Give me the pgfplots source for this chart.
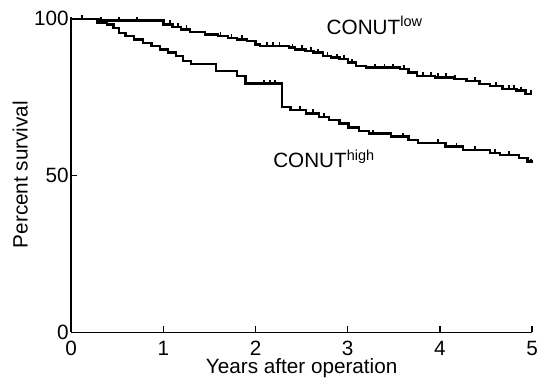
\documentclass[border=0pt]{standalone}
\usepackage{pgfplots}
\pgfplotsset{compat=1.18}
\usepackage{fontspec}
\setmainfont{Liberation Sans}
\pgfdeclareplotmark{cens}{%
  \pgfpathmoveto{\pgfpoint{0pt}{0pt}}%
  \pgfpathlineto{\pgfpoint{0pt}{\pgfplotmarksize}}%
  \pgfusepathqstroke}
\begin{document}
\begin{tikzpicture}[font=\fontsize{21}{25}\selectfont]
\begin{axis}[
  at={(0,0)}, anchor=south west,
  scale only axis, width=466bp, height=319bp,
  xmin=0, xmax=5, ymin=0, ymax=100.6,
  axis x line*=bottom, axis y line*=left,
  axis line style={-, line width=1.5bp},
  xtick={0,1,2,3,4,5}, ytick={0,50,100},
  tick align=inside, major tick length=6bp,
  tick style={line width=1.3bp, black},
  /pgf/number format/assume math mode=true,
  tick label style={font=\fontsize{21}{25}\selectfont},
  xticklabel style={anchor=base, yshift=-23bp},
  yticklabel style={anchor=east, xshift=1bp},
  every axis x label/.style={at={(axis description cs:0.5,-0.1317)}, anchor=base},
  every axis y label/.style={at={(axis description cs:-0.0944,0.5)}, rotate=90, anchor=base},
  xlabel={Years after operation},
  ylabel={Percent survival},
  clip=false,
]
% CONUT low
\addplot[const plot, line width=2.4bp, black] coordinates {
(0,100) (0.30,99.4) (1.00,98.2) (1.10,97.4) (1.19,96.6) (1.29,95.8) (1.45,95.0)
(1.59,94.4) (1.70,93.9) (1.80,93.4) (1.91,92.8) (2.00,91.8) (2.05,91.3) (2.36,90.8)
(2.43,90.2) (2.54,89.7) (2.63,89.2) (2.73,88.1) (2.82,87.6) (2.91,87.1) (3.00,86.0)
(3.09,85.0) (3.20,84.4) (3.57,83.9) (3.66,82.9) (3.75,81.8) (3.95,81.3) (4.15,80.8)
(4.29,80.2) (4.43,79.2) (4.54,78.6) (4.68,77.6) (4.83,77.1) (4.93,76.0) (5.00,76.0)
};
\addplot[only marks, mark=cens, mark size=4bp, line width=1.8bp, black] coordinates {
(0.12,100) (0.32,99.4) (0.52,99.4) (0.71,99.4) (1.07,98.2) (1.16,97.4) (1.25,96.6)
(1.62,94.4) (1.74,93.9) (1.85,93.4) (2.12,91.3) (2.19,91.3) (2.26,91.3) (2.40,90.8)
(2.50,90.2) (2.60,89.7) (2.68,89.2) (2.78,88.1) (2.88,87.6) (2.96,87.1) (3.05,86.0)
(3.30,84.4) (3.40,84.4) (3.49,84.4) (3.61,83.9) (3.82,81.8) (3.90,81.8) (3.98,81.3)
(4.07,81.3) (4.16,80.8) (4.38,80.2) (4.61,78.6) (4.75,77.6) (4.80,77.6) (4.88,77.1)
(4.99,76.0)
};
% CONUT high
\addplot[const plot, line width=2.4bp, black] coordinates {
(0,100) (0.28,98.8) (0.39,98.1) (0.46,97.1) (0.52,95.5) (0.59,94.4) (0.68,93.4)
(0.78,92.3) (0.87,91.3) (0.96,90.2) (1.05,89.2) (1.14,88.1) (1.21,86.6) (1.30,85.5)
(1.57,83.4) (1.80,81.8) (1.89,79.3) (2.29,71.8) (2.38,70.8) (2.55,69.8) (2.69,68.7)
(2.80,67.7) (2.91,66.6) (3.01,65.3) (3.12,64.2) (3.23,63.4) (3.47,62.4) (3.66,61.3)
(3.76,60.3) (4.06,59.2) (4.25,58.1) (4.54,57.1) (4.65,56.6) (4.86,55.5) (4.95,54.5)
(5.00,54.0)
};
\addplot[only marks, mark=cens, mark size=4bp, line width=1.8bp, black] coordinates {
(2.09,79.3) (2.16,79.3) (2.21,79.3) (2.48,70.8) (2.62,69.8) (2.74,68.7) (3.27,63.4)
(3.60,62.4) (3.98,60.3) (4.18,59.2) (4.38,58.1) (4.60,57.1) (4.75,56.6) (4.99,54.0)
};
\node[anchor=base west, inner sep=0pt] at (axis cs:2.77,95) {CONUT\textsuperscript{low}};
\node[anchor=base west, inner sep=0pt] at (axis cs:2.19,52.4) {CONUT\textsuperscript{high}};
\end{axis}
\pgfresetboundingbox
\useasboundingbox (-72bp,-49bp) rectangle (474bp,336bp);
\end{tikzpicture}
\end{document}
